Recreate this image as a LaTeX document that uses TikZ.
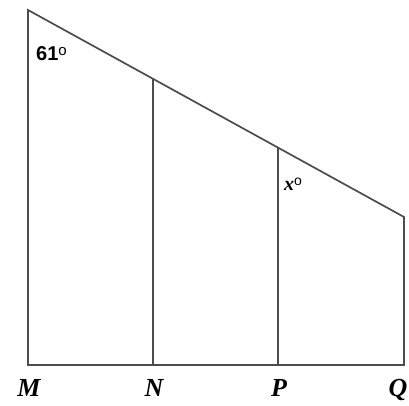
\documentclass[tikz,border=0pt]{standalone}
\usepackage{fontspec}
\setmainfont{Liberation Serif}
\newfontfamily\lsans{Liberation Sans}
\begin{document}
\begin{tikzpicture}[x=1pt,y=-1pt,
  edge/.style={draw=black!70,line width=1.7pt,line join=miter},
  ptlabel/.style={font=\fontsize{26}{26}\selectfont\bfseries\itshape,inner sep=0pt,anchor=base},
  anglabel/.style={inner sep=0pt,anchor=base west}]
\useasboundingbox (0,0) rectangle (409,406);
\coordinate (A) at (28,10);
\coordinate (B) at (153,79);
\coordinate (C) at (278,148);
\coordinate (D) at (404,217);
\coordinate (M) at (28,365);
\coordinate (N) at (153,365);
\coordinate (P) at (278,365);
\coordinate (Q) at (404,365);
\draw[edge] (M) -- (A) -- (D) -- (Q) -- cycle;
\draw[edge] (B) -- (N);
\draw[edge] (C) -- (P);
\node[ptlabel] (lM) at (29,396) {M};
\node[ptlabel] (lN) at (154,396) {N};
\node[ptlabel] (lP) at (279,396) {P};
\node[ptlabel] (lQ) at (398,396) {Q};
\node[anglabel] (a61) at (36,61) {\lsans\fontsize{20}{20}\selectfont\bfseries 61\raisebox{5pt}{\fontsize{15}{15}\selectfont\mdseries o}};
\node[anglabel] (ax) at (284,190) {\fontsize{20}{20}\selectfont\bfseries\itshape x\raisebox{5pt}{\fontsize{14}{14}\selectfont\upshape\mdseries\lsans o}};
\end{tikzpicture}
\end{document}
